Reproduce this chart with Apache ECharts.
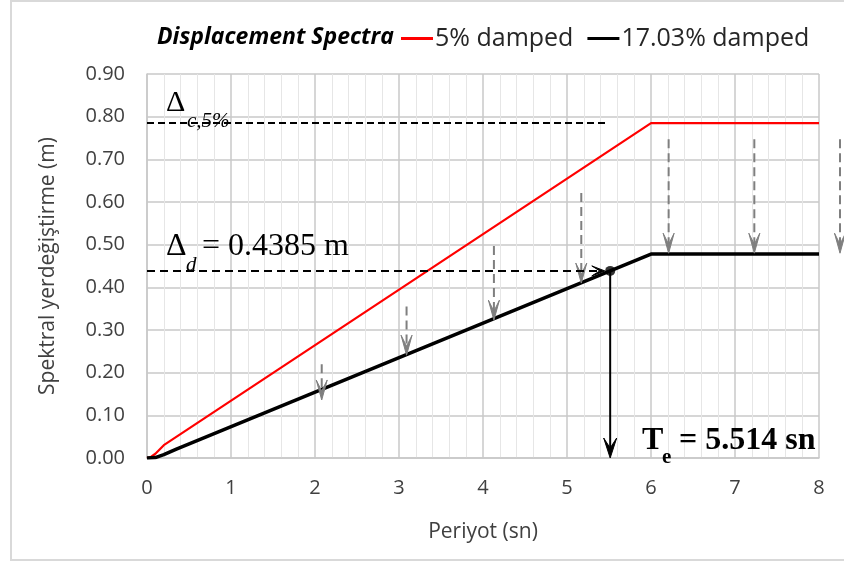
<!DOCTYPE html>
<html>
<head>
<meta charset="utf-8">
<title>Displacement Spectra</title>
<script src="https://cdn.jsdelivr.net/npm/echarts@6/dist/echarts.min.js"></script>
<style>
  html, body { margin: 0; padding: 0; background: #ffffff; }
  #chart { width: 844px; height: 562px; }
</style>
</head>
<body>
<div id="chart"></div>
<script>
// Period axis (s) and spectral displacement (m)
const xTicks = [0, 1, 2, 3, 4, 5, 6, 7, 8];
const yTicks = [0, 0.1, 0.2, 0.3, 0.4, 0.5, 0.6, 0.7, 0.8, 0.9];

// 5% damped displacement spectrum
const redT  = [0, 0.05, 0.1, 0.15, 0.2, 6, 8];
const redSd = [0, 0.003, 0.010, 0.020, 0.030, 0.785, 0.785];

// 17.03% damped displacement spectrum
const blackT  = [0, 0.1, 0.2, 0.35, 6, 8];
const blackSd = [0, 0.001, 0.008, 0.021, 0.478, 0.478];

// Corner displacement of the 5% spectrum
const deltaC5 = 0.785;
const deltaCEndT = 5.49;

// Target displacement and effective period
const deltaD = 0.4385;
const effPeriod = 5.514;
const deltaDArrowEndT = 5.45;

// Damping-reduction arrows: period, start and tip values
const reduceT   = [2.08, 3.09, 4.13, 5.17, 6.21, 7.23, 8.25];
const reduceTop = [0.220, 0.355, 0.497, 0.621, 0.747, 0.747, 0.747];
const reduceTip = [0.136, 0.241, 0.323, 0.410, 0.480, 0.480, 0.480];

const zip = (a, b) => a.map((v, i) => [v, b[i]]);

// Draws a straight shaft with a stealth-style arrow head at its end
function arrowRenderer(opts) {
  return function (params, api) {
    const p0 = api.coord([api.value(0), api.value(1)]);
    const p1 = api.coord([api.value(2), api.value(3)]);
    const dx = p1[0] - p0[0], dy = p1[1] - p0[1];
    const len = Math.sqrt(dx * dx + dy * dy) || 1;
    const ux = dx / len, uy = dy / len;
    const nx = -uy, ny = ux;
    const L = opts.headLen, W = opts.headHalf, Nd = opts.notch;
    const back = [p1[0] - ux * L, p1[1] - uy * L];
    const notch = [p1[0] - ux * Nd, p1[1] - uy * Nd];
    return {
      type: 'group',
      children: [
        {
          type: 'line',
          shape: { x1: p0[0], y1: p0[1], x2: notch[0], y2: notch[1] },
          style: { stroke: opts.color, lineWidth: opts.width, lineDash: opts.dash || null, fill: null }
        },
        {
          type: 'polygon',
          shape: {
            points: [
              p1,
              [back[0] + nx * W, back[1] + ny * W],
              notch,
              [back[0] - nx * W, back[1] - ny * W]
            ]
          },
          style: { fill: opts.color, stroke: opts.color, lineWidth: 1 }
        }
      ]
    };
  };
}

const chart = echarts.init(document.getElementById('chart'), null, { renderer: 'canvas' });

const labelFont = '"Open Sans", "Noto Sans", sans-serif';
const serif = '"Liberation Serif", "DejaVu Serif", serif';

const option = {
  backgroundColor: '#ffffff',
  animation: false,
  title: {
    text: 'Displacement Spectra',
    left: 152,
    top: 21,
    textStyle: {
      fontFamily: labelFont,
      fontSize: 23,
      fontWeight: 'bold',
      fontStyle: 'italic',
      color: '#000000'
    }
  },
  legend: {
    data: ['5% damped', '17.03% damped'],
    left: 396,
    top: 21,
    icon: 'rect',
    itemWidth: 32,
    itemHeight: 3,
    itemGap: 14,
    textStyle: { fontFamily: labelFont, fontSize: 25, color: '#262626', padding: [0, 0, 0, -3] }
  },
  grid: { left: 147, right: 25, top: 74, bottom: 104, containLabel: false },
  xAxis: {
    type: 'value',
    min: xTicks[0],
    max: xTicks[xTicks.length - 1],
    interval: 1,
    name: 'Periyot (sn)',
    nameLocation: 'middle',
    nameGap: 64,
    nameTextStyle: { fontFamily: labelFont, fontSize: 21, color: '#404040' },
    axisLine: { show: true, lineStyle: { color: '#c8c8c8', width: 1.5 } },
    axisTick: { show: false },
    axisLabel: { fontFamily: labelFont, fontSize: 20, color: '#404040', margin: 20 },
    splitLine: { show: true, lineStyle: { color: '#c8c8c8', width: 1.5 } },
    minorTick: { show: false, splitNumber: 5 },
    minorSplitLine: { show: true, lineStyle: { color: '#e6e6e6', width: 1 } }
  },
  yAxis: {
    type: 'value',
    min: yTicks[0],
    max: yTicks[yTicks.length - 1],
    interval: 0.1,
    name: 'Spektral yerdeğiştirme (m)',
    nameLocation: 'middle',
    nameGap: 88,
    nameTextStyle: { fontFamily: labelFont, fontSize: 21, color: '#404040' },
    axisLine: { show: true, lineStyle: { color: '#c8c8c8', width: 1.5 } },
    axisTick: { show: false },
    axisLabel: {
      fontFamily: labelFont, fontSize: 20, color: '#404040', margin: 22,
      formatter: v => v.toFixed(2)
    },
    splitLine: { show: true, lineStyle: { color: '#c8c8c8', width: 1.5 } }
  },
  series: [
    {
      name: '5% damped',
      type: 'line',
      data: zip(redT, redSd),
      symbol: 'none',
      color: '#ff0000',
      lineStyle: { color: '#ff0000', width: 2.2 },
      z: 4
    },
    {
      name: '17.03% damped',
      type: 'line',
      data: zip(blackT, blackSd),
      symbol: 'none',
      color: '#000000',
      lineStyle: { color: '#000000', width: 3.5 },
      z: 5
    },
    {
      name: 'deltaC',
      type: 'line',
      data: [[0, deltaC5], [deltaCEndT, deltaC5]],
      symbol: 'none',
      lineStyle: { color: '#000000', width: 2, type: [7, 4] },
      z: 3
    },
    {
      name: 'reduction',
      type: 'custom',
      clip: false,
      renderItem: arrowRenderer({ color: '#7f7f7f', width: 2, dash: [9, 5], headLen: 20, headHalf: 5.5, notch: 9 }),
      encode: { x: [0, 2], y: [1, 3] },
      data: reduceT.map((t, i) => [t, reduceTop[i], t, reduceTip[i]]),
      z: 6
    },
    {
      name: 'deltaD',
      type: 'custom',
      clip: false,
      renderItem: arrowRenderer({ color: '#000000', width: 2, dash: [8, 5], headLen: 13, headHalf: 5, notch: 5 }),
      encode: { x: [0, 2], y: [1, 3] },
      data: [[0, deltaD, deltaDArrowEndT, deltaD]],
      z: 7
    },
    {
      name: 'Te',
      type: 'custom',
      clip: false,
      renderItem: arrowRenderer({ color: '#000000', width: 2, headLen: 20, headHalf: 6.5, notch: 10 }),
      encode: { x: [0, 2], y: [1, 3] },
      data: [[effPeriod, deltaD, effPeriod, 0]],
      z: 7
    },
    {
      name: 'point',
      type: 'scatter',
      data: [[effPeriod, deltaD]],
      symbol: 'circle',
      symbolSize: 10,
      itemStyle: { color: '#000000' },
      z: 8
    }
  ],
  graphic: [
    {
      type: 'rect', silent: true, z: -1,
      shape: { x: 11, y: 1, width: 845, height: 559 },
      style: { fill: null, stroke: '#d9d9d9', lineWidth: 2 }
    },
    {
      type: 'text', silent: true, z: 20,
      style: { x: 166, y: 103, text: 'Δ', font: '30px ' + serif, fill: '#000', verticalAlign: 'middle' }
    },
    {
      type: 'text', silent: true, z: 20,
      style: { x: 187, y: 121, text: 'c,5%', font: 'italic 21px ' + serif, fill: '#000', verticalAlign: 'middle' }
    },
    {
      type: 'text', silent: true, z: 20,
      style: { x: 166, y: 247, text: 'Δ', font: '32px ' + serif, fill: '#000', verticalAlign: 'middle' }
    },
    {
      type: 'text', silent: true, z: 20,
      style: { x: 186, y: 265, text: 'd', font: 'italic 21px ' + serif, fill: '#000', verticalAlign: 'middle' }
    },
    {
      type: 'text', silent: true, z: 20,
      style: { x: 202, y: 247, text: '= 0.4385 m', font: '32px ' + serif, fill: '#000', verticalAlign: 'middle' }
    },
    {
      type: 'text', silent: true, z: 20,
      style: { x: 642, y: 441, text: 'T', font: 'bold 32px ' + serif, fill: '#000', verticalAlign: 'middle' }
    },
    {
      type: 'text', silent: true, z: 20,
      style: { x: 662, y: 458, text: 'e', font: 'bold 21px ' + serif, fill: '#000', verticalAlign: 'middle' }
    },
    {
      type: 'text', silent: true, z: 20,
      style: { x: 679, y: 441, text: '= 5.514 sn', font: 'bold 32px ' + serif, fill: '#000', verticalAlign: 'middle' }
    }
  ]
};

chart.setOption(option);
</script>
</body>
</html>
